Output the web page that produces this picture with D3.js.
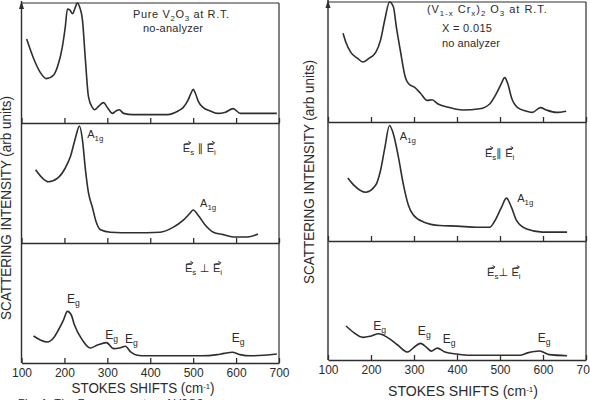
<!DOCTYPE html>
<html>

<head>
  <meta charset="utf-8" />
  <title>Raman V2O3</title>
  <script src="https://d3js.org/d3.v7.min.js"></script>
  <style>
    body { margin: 0; background: #fff; }
    text { font-family: "Liberation Sans", Arial, sans-serif; fill: #2b2b2b; }
  </style>
</head>

<body>
  <script>
    // Stokes shift ticks (cm^-1)
    const tickShifts = [100, 200, 300, 400, 500, 600, 700];

    // left chart: pure V2O3, R.T.
    const pureAllShift = [112, 128, 144, 158, 175, 184, 195, 202, 207, 213, 219, 225, 230, 236, 242, 249, 256, 265, 270, 280, 291, 300, 312, 320, 328, 338, 360, 400, 440, 465, 477, 488, 494, 500, 506, 512, 523, 540, 556, 575, 593, 610, 630, 660, 695];
    const pureAllInt = [70, 54, 42, 37, 40, 47, 63, 80, 95, 94, 91, 96, 100, 96, 86, 52, 22, 13, 11, 14, 17, 13, 8, 10, 11, 8, 7, 7, 7, 10, 13, 19, 24, 28, 24, 18, 13, 10, 8, 9, 12, 8, 8, 8, 8];

    const pureParShift = [133, 149, 163, 184, 202, 214, 226, 235, 242, 249, 256, 265, 274, 284, 307, 360, 423, 453, 477, 493, 500, 512, 528, 547, 570, 593, 626, 651];
    const pureParInt = [61, 54, 51, 54, 62.5, 72, 88, 97.5, 86, 61, 42, 30, 17.5, 11, 9, 8.5, 9, 13, 19, 25, 27.5, 23, 15, 9, 7, 5, 5, 7.5];

    const purePerpShift = [128, 145, 160, 175, 186, 198, 207, 216, 223, 242, 260, 277, 298, 314, 328, 342, 355, 370, 390, 450, 520, 556, 572, 591, 609, 635, 695];
    const purePerpInt = [22.5, 19, 17.5, 21, 27.5, 36, 43, 40, 32, 19, 12.5, 15, 17, 12, 12.5, 14, 9, 6.5, 6, 6, 6, 7, 8, 9, 7, 6, 7.5];

    // right chart: (V1-xCrx)2O3, x = 0.015
    const crAllShift = [135, 142, 153, 169, 181, 195, 211, 222, 232, 243, 252, 259, 268, 280, 287, 301, 315, 331, 342, 356, 377, 414, 453, 476, 492, 503, 511, 518, 527, 541, 562, 575, 594, 608, 631, 654];
    const crAllInt = [74, 66, 58, 53, 50, 53, 58, 68, 85, 100, 96, 79, 60, 37, 32, 29, 24, 18, 18.5, 15, 12.5, 10, 11, 15, 24, 32, 37, 32, 20, 12, 9, 8, 12, 10, 8, 9];

    const crParShift = [146, 160, 188, 211, 222, 232, 243, 252, 264, 275, 287, 298, 322, 360, 400, 446, 476, 488, 503, 515, 527, 538, 562, 598, 656];
    const crParInt = [53, 47, 41, 47, 59, 78, 97, 90, 70, 48, 30, 22, 16, 13, 12.5, 11.5, 11.5, 17, 28, 36, 28, 17.5, 10, 7.5, 7.5];

    const crPerpShift = [142, 160, 181, 199, 218, 238, 262, 285, 298, 315, 331, 340, 354, 372, 400, 430, 546, 564, 592, 614, 656];
    const crPerpInt = [28.6, 23, 19, 20, 22, 19, 12.6, 6.7, 10, 14, 10, 7.5, 10, 6.7, 5, 4, 4, 6, 7.6, 4.5, 3.6];

    let width = 590;
    let height = 400;
    let ink = "#2e2e2e";

    let svg = d3.select("body")
      .append("svg")
      .attr("width", width)
      .attr("height", height);

    // text with subscripts: "_1g" = subscript, "^E" = E with a vector arrow
    function addText(g, x, y, parts, size, len) {
      let t = g.append("text")
        .attr("x", x)
        .attr("y", y)
        .style("font-size", size + "px");
      if (len) t.attr("textLength", len).attr("lengthAdjust", "spacing");
      let down = false;
      let pos = 0;
      let vec = [];
      parts.forEach(p => {
        let s;
        if (p[0] == "_") {
          s = t.append("tspan").text(p.slice(1)).attr("dy", 3).style("font-size", (size * 0.72) + "px");
          down = true;
          pos += p.length - 1;
          return;
        }
        if (p[0] == "^") {
          vec.push(pos);
          p = p.slice(1);
        }
        s = t.append("tspan").text(p);
        if (/[\u2225\u22A5]/.test(p)) s.style("font-family", "DejaVu Sans");
        if (down) { s.attr("dy", -3); down = false; }
        pos += p.length;
      });
      // small arrows over vector symbols
      vec.forEach(i => {
        let r = t.node().getExtentOfChar(i);
        let ay = r.y + r.height * 0.12;
        let x0 = r.x + 1, x1 = r.x + r.width + 0.5;
        g.append("path")
          .attr("d", `M${x0},${ay + 1} L${x1},${ay - 0.5} M${x1 - 2.5},${ay - 2} L${x1},${ay - 0.5} L${x1 - 2},${ay + 1.5}`)
          .attr("fill", "none")
          .attr("stroke", ink)
          .attr("stroke-width", 0.9);
      });
      return t;
    }

    function drawChart(opt) {
      let g = svg.append("g");
      let scaleX = d3.scaleLinear()
        .domain([100, 700])
        .range([opt.left, opt.right]);
      let bounds = opt.tops.concat([opt.bottom]);
      let scalesY = [];

      for (let i = 0; i < 3; i++) {
        let scaleY = d3.scaleLinear()
          .domain([0, 100])
          .range([bounds[i + 1], bounds[i]]);
        scalesY.push(scaleY);

        // panel bottom line with ticks pointing up
        let axisX = d3.axisBottom(scaleX)
          .tickValues(tickShifts)
          .tickSizeInner(-5)
          .tickSizeOuter(0)
          .tickPadding(5)
          .tickFormat(i == 2 ? d3.format("d") : "");
        let ax = g.append("g")
          .attr("transform", `translate(0, ${bounds[i + 1]})`)
          .call(axisX);
        ax.attr("font-family", null).attr("font-size", null);
        ax.selectAll("path, line").attr("stroke", ink).attr("stroke-width", 1.3);
        ax.selectAll("text").style("font-size", "12px").attr("fill", ink);

        let lineF = d3.line()
          .x(d => scaleX(d[0]))
          .y(d => scaleY(d[1]))
          .curve(d3.curveMonotoneX);

        g.append("path")
          .datum(d3.zip(opt.series[i][0], opt.series[i][1]))
          .attr("d", lineF)
          .attr("fill", "none")
          .attr("stroke", ink)
          .attr("stroke-width", 1.6)
          .attr("stroke-linejoin", "round");
      }

      // frame
      g.append("line")
        .attr("x1", opt.left).attr("x2", opt.right)
        .attr("y1", opt.tops[0]).attr("y2", opt.tops[0])
        .attr("stroke", ink).attr("stroke-width", 1.2);
      g.append("line")
        .attr("x1", opt.left).attr("x2", opt.left)
        .attr("y1", opt.tops[0] - 2).attr("y2", opt.bottom)
        .attr("stroke", ink).attr("stroke-width", 1.4);
      g.append("line")
        .attr("x1", opt.right).attr("x2", opt.right)
        .attr("y1", opt.tops[0]).attr("y2", opt.bottom)
        .attr("stroke", ink).attr("stroke-width", 1.2);
      g.append("path")
        .attr("d", `M${opt.left - 2.5},${opt.tops[0] + 6} L${opt.left},${opt.tops[0] - 2} L${opt.left + 2.5},${opt.tops[0] + 6} Z`)
        .attr("fill", ink);

      // axis titles
      g.append("text")
        .attr("transform", `translate(${opt.yLabelX}, ${opt.yLabelY}) rotate(-90)`)
        .attr("text-anchor", "middle")
        .attr("textLength", 224)
        .attr("lengthAdjust", "spacingAndGlyphs")
        .style("font-size", "14px")
        .text("SCATTERING  INTENSITY  (arb units)");

      let xt = g.append("text")
        .attr("x", opt.xLabelX)
        .attr("y", opt.xLabelY)
        .attr("text-anchor", "middle")
        .attr("textLength", opt.xLabelLen)
        .attr("lengthAdjust", "spacingAndGlyphs")
        .style("font-size", "14px");
      xt.append("tspan").text("STOKES  SHIFTS  (cm");
      xt.append("tspan").text("-1").attr("dy", -4).style("font-size", "8px");
      xt.append("tspan").text(")").attr("dy", 4);

      return { g: g, x: scaleX, y: scalesY };
    }

    let L = drawChart({
      left: 21.5, right: 279, tops: [3, 123, 243], bottom: 363,
      series: [[pureAllShift, pureAllInt], [pureParShift, pureParInt], [purePerpShift, purePerpInt]],
      yLabelX: 10.5, yLabelY: 208, xLabelX: 143, xLabelY: 393, xLabelLen: 143
    });

    let R = drawChart({
      left: 328, right: 586, tops: [2, 122, 241], bottom: 360,
      series: [[crAllShift, crAllInt], [crParShift, crParInt], [crPerpShift, crPerpInt]],
      yLabelX: 313.5, yLabelY: 172, xLabelX: 463, xLabelY: 396, xLabelLen: 150
    });

    // left annotations
    addText(L.g, L.x(360), L.y[0](87.5), ["Pure  V", "_2", "O", "_3", "  at  R.T."], 11, 96);
    addText(L.g, L.x(383), L.y[0](76), ["no-analyzer"], 11, 60);
    addText(L.g, L.x(253), L.y[1](87.5), ["A", "_1g"], 11);
    addText(L.g, L.x(516), L.y[1](30), ["A", "_1g"], 11);
    addText(L.g, L.x(476), L.y[1](76), ["^E", "_s", " \u2225 ", "^E", "_i"], 11);
    addText(L.g, L.x(481), L.y[2](76), ["^E", "_s", " \u22A5 ", "^E", "_i"], 11);
    addText(L.g, L.x(206), L.y[2](50), ["E", "_g"], 12);
    addText(L.g, L.x(295), L.y[2](20), ["E", "_g"], 12);
    addText(L.g, L.x(341), L.y[2](16.7), ["E", "_g"], 12);
    addText(L.g, L.x(590), L.y[2](17.5), ["E", "_g"], 12);

    // right annotations
    addText(R.g, R.x(330), R.y[0](91), ["(V", "_1-x", " Cr", "_x", ")", "_2", "  O", "_3", "   at  R.T."], 11, 120);
    addText(R.g, R.x(365), R.y[0](75), ["X = 0.015"], 11, 50);
    addText(R.g, R.x(365), R.y[0](62.5), ["no  analyzer"], 11, 58);
    addText(R.g, R.x(267), R.y[1](85), ["A", "_1g"], 11);
    addText(R.g, R.x(540), R.y[1](33), ["A", "_1g"], 11);
    addText(R.g, R.x(465), R.y[1](70.6), ["^E", "_s", "\u2225 ", "^E", "_i"], 11);
    addText(R.g, R.x(470), R.y[2](70.6), ["^E", "_s", "\u22A5 ", "^E", "_i"], 11);
    addText(R.g, R.x(205), R.y[2](25), ["E", "_g"], 12);
    addText(R.g, R.x(309), R.y[2](21), ["E", "_g"], 12);
    addText(R.g, R.x(367), R.y[2](14.3), ["E", "_g"], 12);
    addText(R.g, R.x(588), R.y[2](15), ["E", "_g"], 12);

    // caption remnant at the bottom edge
    svg.append("text")
      .attr("x", 18).attr("y", 407)
      .attr("textLength", 185)
      .style("font-size", "11px")
      .attr("fill", "#b8b8b8")
      .text("Fig. 1.  The Raman spectra of V2O3");
  </script>
</body>

</html>
